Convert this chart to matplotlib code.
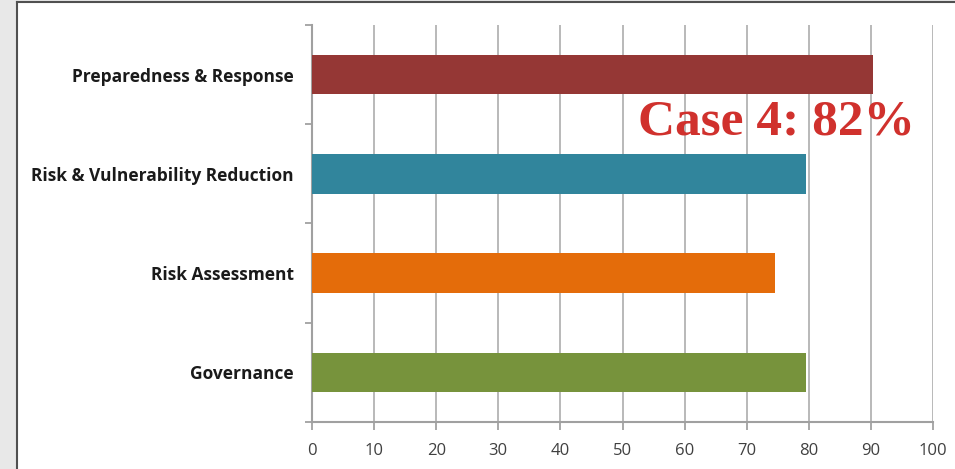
import matplotlib
matplotlib.use("Agg")
import matplotlib.pyplot as plt
from matplotlib.patches import Rectangle
from matplotlib.lines import Line2D

categories = ["Governance", "Risk Assessment", "Risk & Vulnerability Reduction", "Preparedness & Response"]
values = [79.5, 74.5, 79.5, 90.3]
colors = ["#77933c", "#e46c0a", "#31859c", "#953735"]
xticks = [0, 10, 20, 30, 40, 50, 60, 70, 80, 90, 100]
annotation = "Case 4: 82%"

W, H = 955, 469
fig = plt.figure(figsize=(W / 100, H / 100), dpi=100)
fig.patch.set_facecolor("white")

# frame decorations
fig.patches.append(Rectangle((0, 0), 15.5 / W, 1, transform=fig.transFigure, facecolor="#e8e8e8", edgecolor="none", zorder=0))
fig.patches.append(Rectangle((0, 1 - 2 / H), 1, 2 / H, transform=fig.transFigure, facecolor="#e8e8e8", edgecolor="none", zorder=0))
fig.lines.append(Line2D([16.5 / W, 16.5 / W], [0, 1 - 2.5 / H], transform=fig.transFigure, color="#505050", lw=1.5))
fig.lines.append(Line2D([16.5 / W, 1], [1 - 2.5 / H, 1 - 2.5 / H], transform=fig.transFigure, color="#505050", lw=1.5))

left, right, top, bottom = 312, 933, 25, 422
ax = fig.add_axes([left / W, 1 - bottom / H, (right - left) / W, (bottom - top) / H])
ax.set_facecolor("none")

ypos = list(range(len(categories)))
ax.barh(ypos, values, height=0.4, color=colors, zorder=3)

ax.set_xlim(0, 100)
ax.set_ylim(-0.5, len(categories) - 0.5)
ax.set_xticks(xticks)
ax.set_xticklabels([str(t) for t in xticks], fontsize=12, color="#404040", family="Open Sans")
ax.set_yticks([i - 0.5 for i in range(len(categories) + 1)])
ax.set_yticklabels([])
ax.set_yticks(ypos, minor=True)
ax.set_yticklabels(categories, minor=True, fontsize=12.5, fontweight="bold", family="Open Sans", color="#1a1a1a")
ax.tick_params(axis="y", which="minor", length=0, pad=13)
ax.tick_params(axis="y", which="major", length=5, color="#999999", width=1.2)
ax.tick_params(axis="x", length=6, color="#999999", width=1.2, pad=9)

ax.grid(axis="x", color="#b3b3b3", lw=1.3, zorder=0)
ax.spines["top"].set_visible(False)
ax.spines["right"].set_visible(False)
for s in ["left", "bottom"]:
    ax.spines[s].set_color("#a0a0a0")
    ax.spines[s].set_linewidth(1.5)

ax.text(0.525, 0.755, annotation, transform=ax.transAxes, fontsize=37, fontweight="bold",
        family="Liberation Serif", color="#d0312d", ha="left", va="center", zorder=5)

fig.savefig("out.png", dpi=100)
